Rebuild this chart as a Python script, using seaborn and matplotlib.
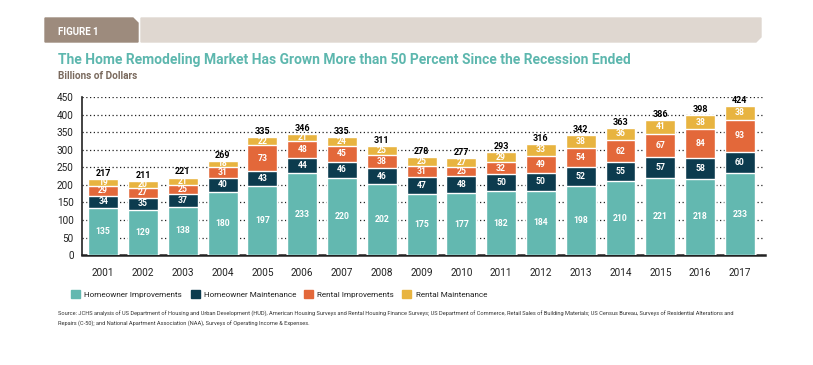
import matplotlib
matplotlib.use('Agg')
import matplotlib.pyplot as plt
import matplotlib.patches as mpatches
import numpy as np
import pandas as pd
import seaborn as sns

years = ['2001', '2002', '2003', '2004', '2005', '2006', '2007', '2008', '2009',
         '2010', '2011', '2012', '2013', '2014', '2015', '2016', '2017']
homeowner_improvements = [135, 129, 138, 180, 197, 233, 220, 202, 175, 177, 182, 184, 198, 210, 221, 218, 233]
homeowner_maintenance = [34, 35, 37, 40, 43, 44, 46, 46, 47, 48, 50, 50, 52, 55, 57, 58, 60]
rental_improvements = [29, 27, 25, 31, 73, 48, 45, 38, 31, 25, 32, 49, 54, 62, 67, 84, 93]
rental_maintenance = [19, 20, 21, 18, 22, 21, 24, 25, 25, 27, 29, 33, 38, 36, 41, 38, 38]
totals = [217, 211, 221, 269, 335, 346, 335, 311, 278, 277, 293, 316, 342, 363, 386, 398, 424]

series_names = ['Homeowner Improvements', 'Homeowner Maintenance', 'Rental Improvements', 'Rental Maintenance']
colors = ['#63b8b0', '#0c3b4e', '#e3683a', '#e8b440']

sns.set_style('white')
plt.rcParams['font.family'] = ['Roboto', 'DejaVu Sans']

df = pd.DataFrame({'year': years,
                   series_names[0]: homeowner_improvements,
                   series_names[1]: homeowner_maintenance,
                   series_names[2]: rental_improvements,
                   series_names[3]: rental_maintenance})
stack = df[series_names].cumsum(axis=1)

fig = plt.figure(figsize=(8.13, 3.65), dpi=100)
ax = fig.add_axes([0.101, 0.301, 0.840, 0.433])

# draw tallest stack first, then cover with lower ones
for i in range(3, -1, -1):
    sns.barplot(x=df['year'], y=stack[series_names[i]], color=colors[i], width=0.75,
                saturation=1, ax=ax, zorder=3)

# segment labels
for i, name in enumerate(series_names):
    bottoms = stack[name] - df[name]
    for x, (b, v) in enumerate(zip(bottoms, df[name])):
        ax.text(x, b + v / 2, str(v), ha='center', va='center', color='white',
                fontsize=6.2, fontweight='bold', zorder=4)
for x, t in enumerate(totals):
    ax.text(x, stack[series_names[3]][x] + 3, str(t), ha='center', va='bottom',
            color='black', fontsize=6.5, fontweight='bold', zorder=4)

ax.set_ylim(0, 450)
ax.set_xlim(-0.53, 16.63)
ax.set_yticks(np.arange(0, 451, 50))
ax.yaxis.grid(True, linestyle=(0, (1, 2)), color='#222222', linewidth=0.9)
ax.set_axisbelow(True)
ax.set_xlabel('')
ax.set_ylabel('')
for s in ['top', 'right']:
    ax.spines[s].set_visible(False)
ax.spines['left'].set_linewidth(1.2)
ax.spines['bottom'].set_linewidth(1.8)
ax.spines['left'].set_color('#222222')
ax.spines['bottom'].set_color('#222222')
ax.tick_params(axis='both', length=0, labelsize=7.2, colors='#222222')
ax.tick_params(axis='x', pad=9)
ax.tick_params(axis='y', pad=6)

# banner
fig.patches.append(mpatches.Polygon([[45 / 813, 1 - 18 / 365], [133 / 813, 1 - 18 / 365],
                                     [138 / 813, 1 - 23 / 365], [138 / 813, 1 - 42 / 365],
                                     [45 / 813, 1 - 42 / 365]], closed=True,
                                    transform=fig.transFigure, color='#9d8b7d', zorder=0))
fig.patches.append(mpatches.Polygon([[141 / 813, 1 - 18 / 365], [761 / 813, 1 - 18 / 365],
                                     [761 / 813, 1 - 37 / 365], [756 / 813, 1 - 42 / 365],
                                     [141 / 813, 1 - 42 / 365]], closed=True,
                                    transform=fig.transFigure, color='#dfd7d0', zorder=0))
fig.text(58 / 813, 1 - 32 / 365, 'FIGURE 1', color='white', fontsize=7, fontweight='bold',
         va='center', ha='left')
fig.text(58 / 813, 1 - 60 / 365, 'The Home Remodeling Market Has Grown More than 50 Percent Since the Recession Ended',
         color='#5db7ae', fontsize=10, fontweight='bold', va='center', ha='left')
fig.text(58 / 813, 1 - 76 / 365, 'Billions of Dollars', color='#7a6a5e', fontsize=7.2,
         fontweight='bold', va='center', ha='left')

handles = [mpatches.Patch(color=c, label=n) for c, n in zip(colors, series_names)]
fig.legend(handles=handles, loc='center left', bbox_to_anchor=(64 / 813, 1 - 294 / 365),
           ncol=4, frameon=False, fontsize=5.9, handlelength=1.1, handleheight=1.1,
           handletextpad=0.5, columnspacing=1.0, labelcolor='#222222')

fig.text(58 / 813, 1 - 319 / 365,
         'Source: JCHS analysis of US Department of Housing and Urban Development (HUD), American Housing Surveys and Rental Housing Finance Surveys; '
         'US Department of Commerce, Retail Sales of Building Materials; US Census Bureau, Surveys of Residential Alterations and\n'
         'Repairs (C-50); and National Apartment Association (NAA), Surveys of Operating Income & Expenses.',
         fontsize=4.1, color='#333333', va='center', ha='left', linespacing=1.7)

fig.savefig('out.png', dpi=100)
